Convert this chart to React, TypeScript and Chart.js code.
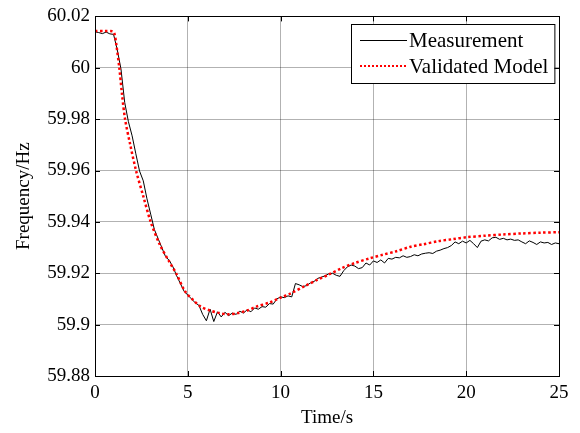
import { useEffect, useRef } from "react";
import { Chart, registerables } from "chart.js";

Chart.register(...registerables);

// ---- data ----
const seriesNames = ["Measurement", "Validated Model"];
const xTitle = "Time/s";
const yTitle = "Frequency/Hz";
const xTicks = [0, 5, 10, 15, 20, 25];
const yTicks = [59.88, 59.9, 59.92, 59.94, 59.96, 59.98, 60, 60.02];

// measurement sampled every SAMPLE_STEP seconds from t = 0
const SAMPLE_STEP = 0.2;
const measurementFreq = [
  60.014, 60.0137, 60.0133, 60.0139, 60.0132,
  60.013, 60.007, 59.9995, 59.9865, 59.979,
  59.9735, 59.9665, 59.9598, 59.956, 59.949,
  59.943, 59.937, 59.9335, 59.93, 59.9265,
  59.925, 59.9225, 59.919, 59.916, 59.913,
  59.9115, 59.91, 59.9085, 59.9075, 59.904,
  59.9015, 59.906, 59.9012, 59.905, 59.903,
  59.9048, 59.9035, 59.9045, 59.904, 59.9052,
  59.9045, 59.9058, 59.905, 59.9065, 59.906,
  59.907, 59.9068, 59.9082, 59.908, 59.91,
  59.9108, 59.9105, 59.9112, 59.9108, 59.916,
  59.9155, 59.9148, 59.9152, 59.9162, 59.9168,
  59.918, 59.9185, 59.919, 59.9198, 59.92,
  59.9192, 59.9188, 59.921, 59.9225, 59.9232,
  59.9228, 59.9218, 59.9222, 59.924, 59.9232,
  59.9248, 59.9242, 59.9252, 59.924, 59.9258,
  59.9255, 59.9262, 59.926, 59.9268, 59.9262,
  59.9265, 59.9272, 59.9268, 59.9275, 59.9278,
  59.928, 59.9277, 59.9286, 59.929, 59.9296,
  59.93, 59.9308, 59.9322, 59.9315, 59.9325,
  59.9318, 59.9328, 59.9315, 59.93, 59.9325,
  59.933, 59.9326, 59.9338, 59.934, 59.9332,
  59.9336, 59.933, 59.9333, 59.9328, 59.933,
  59.9322, 59.9315, 59.9326, 59.932, 59.9312,
  59.9322, 59.9318, 59.932, 59.9312, 59.9318,
  59.9315,
];

const modelTime = [
  0, 0.5, 0.95, 1.05, 1.15, 1.31, 1.45, 1.62, 1.9, 2.21, 2.6, 3.0, 3.5, 4.0,
  4.37, 4.85, 5.3, 5.7, 6.2, 6.7, 7.2, 7.7, 8.2, 8.7, 9.4, 10, 10.5, 11.3, 12,
  12.6, 13.3, 14, 14.8, 15.5, 16.2, 17, 17.7, 18.5, 19.3, 20, 21, 22, 23, 24, 25,
];
const modelFreq = [
  60.0143, 60.0143, 60.0142, 60.0132, 60.009, 60.0, 59.99, 59.98, 59.97, 59.96,
  59.95, 59.94, 59.931, 59.9245, 59.92, 59.913, 59.9095, 59.907, 59.9055,
  59.9045, 59.904, 59.9045, 59.9055, 59.907, 59.9086, 59.9105, 59.912, 59.915,
  59.9175, 59.9195, 59.922, 59.924, 59.9258, 59.9272, 59.9285, 59.9303,
  59.9313, 59.9325, 59.9333, 59.934, 59.9346, 59.9351, 59.9355, 59.9358, 59.936,
];

const FONT_FAMILY = "'Liberation Serif', 'Times New Roman', serif";

const frameAndLegend = {
  id: "frameAndLegend",
  afterDraw(chart: any) {
    const { ctx, chartArea } = chart;
    const { left, right, top, bottom } = chartArea;
    const xs = chart.scales.x;
    const ys = chart.scales.y;
    ctx.save();
    // inward tick marks
    ctx.strokeStyle = "#000";
    ctx.lineWidth = 1;
    ctx.beginPath();
    xTicks.forEach((v) => {
      const px = Math.round(xs.getPixelForValue(v)) + 0.5;
      ctx.moveTo(px, bottom);
      ctx.lineTo(px, bottom - 5);
      ctx.moveTo(px, top);
      ctx.lineTo(px, top + 5);
    });
    yTicks.forEach((v) => {
      const py = Math.round(ys.getPixelForValue(v)) + 0.5;
      ctx.moveTo(left, py);
      ctx.lineTo(left + 5, py);
      ctx.moveTo(right, py);
      ctx.lineTo(right - 5, py);
    });
    ctx.stroke();
    // frame
    ctx.strokeRect(Math.round(left) + 0.5, Math.round(top) + 0.5, Math.round(right - left), Math.round(bottom - top));

    // legend
    ctx.font = `21px ${FONT_FAMILY}`;
    const textW = Math.max(...seriesNames.map((n) => ctx.measureText(n).width));
    const sampleW = 47;
    const boxW = 9 + sampleW + 2 + textW + 6;
    const boxH = 59;
    const bx = Math.round(right - 5 - boxW);
    const by = Math.round(top + 8);
    ctx.fillStyle = "#fff";
    ctx.fillRect(bx, by, boxW, boxH);
    ctx.strokeStyle = "#000";
    ctx.lineWidth = 1;
    ctx.strokeRect(bx + 0.5, by + 0.5, boxW, boxH);
    const rows = [by + 16, by + 42];
    // measurement sample
    ctx.beginPath();
    ctx.strokeStyle = "#000";
    ctx.lineWidth = 1;
    ctx.moveTo(bx + 9, rows[0] + 0.5);
    ctx.lineTo(bx + 9 + sampleW, rows[0] + 0.5);
    ctx.stroke();
    // model sample
    ctx.beginPath();
    ctx.strokeStyle = "#ff0000";
    ctx.lineWidth = 2;
    ctx.setLineDash([2, 2]);
    ctx.moveTo(bx + 9, rows[1]);
    ctx.lineTo(bx + 9 + sampleW, rows[1]);
    ctx.stroke();
    ctx.setLineDash([]);
    ctx.fillStyle = "#000";
    ctx.textBaseline = "middle";
    ctx.textAlign = "left";
    seriesNames.forEach((n, i) => {
      ctx.fillText(n, bx + 9 + sampleW + 2, rows[i] + 1);
    });
    ctx.restore();
  },
};

export default function App() {
  const ref = useRef<HTMLCanvasElement | null>(null);

  useEffect(() => {
    if (!ref.current) return;
    const tickFont = { family: FONT_FAMILY, size: 19 };
    const titleFont = { family: FONT_FAMILY, size: 19 };
    const chart = new Chart(ref.current, {
      type: "line",
      data: {
        datasets: [
          {
            label: seriesNames[0],
            data: measurementFreq.map((v, i) => ({ x: Number((i * SAMPLE_STEP).toFixed(2)), y: v })),
            borderColor: "#000",
            borderWidth: 1,
            pointRadius: 0,
            tension: 0,
            order: 1,
          },
          {
            label: seriesNames[1],
            data: modelTime.map((t, i) => ({ x: t, y: modelFreq[i] })),
            borderColor: "#ff0000",
            borderWidth: 2.5,
            borderDash: [2.5, 2.5],
            pointRadius: 0,
            tension: 0.3,
            order: 0,
          },
        ],
      },
      options: {
        responsive: false,
        animation: false,
        devicePixelRatio: 1,
        layout: { padding: { top: 13, right: 21, left: 0, bottom: 0 } },
        plugins: { legend: { display: false }, tooltip: { enabled: false } },
        scales: {
          x: {
            type: "linear",
            min: 0,
            max: 25,
            afterBuildTicks: (s: any) => {
              s.ticks = xTicks.map((v) => ({ value: v }));
            },
            afterFit: (s: any) => {
              s.height = 57;
            },
            grid: { color: "rgba(0,0,0,0.3)", drawTicks: false, lineWidth: 1 },
            border: { display: true, color: "#000" },
            ticks: {
              font: tickFont,
              color: "#000",
              padding: 6,
              maxRotation: 0,
              autoSkip: false,
              callback: (v: any) => String(v),
            },
            title: {
              display: true,
              text: xTitle,
              font: titleFont,
              color: "#000",
              padding: { top: 0, bottom: 4 },
            },
          },
          y: {
            type: "linear",
            min: 59.88,
            max: 60.02,
            afterBuildTicks: (s: any) => {
              s.ticks = yTicks.map((v) => ({ value: v }));
            },
            afterFit: (s: any) => {
              s.width = 95;
            },
            grid: { color: "rgba(0,0,0,0.3)", drawTicks: false, lineWidth: 1 },
            border: { display: true, color: "#000" },
            ticks: {
              font: tickFont,
              color: "#000",
              padding: 5,
              autoSkip: false,
              callback: (v: any) => String(Number(Number(v).toFixed(2))),
            },
            title: {
              display: true,
              text: yTitle,
              font: titleFont,
              color: "#000",
              padding: { top: 13, bottom: 0 },
            },
          },
        },
      },
      plugins: [frameAndLegend],
    });
    return () => chart.destroy();
  }, []);

  return (
    <div style={{ position: "fixed", left: 0, top: 0, width: 580, height: 433, background: "#fff" }}>
      <canvas ref={ref} width={580} height={433} style={{ width: 580, height: 433, display: "block" }} />
    </div>
  );
}
